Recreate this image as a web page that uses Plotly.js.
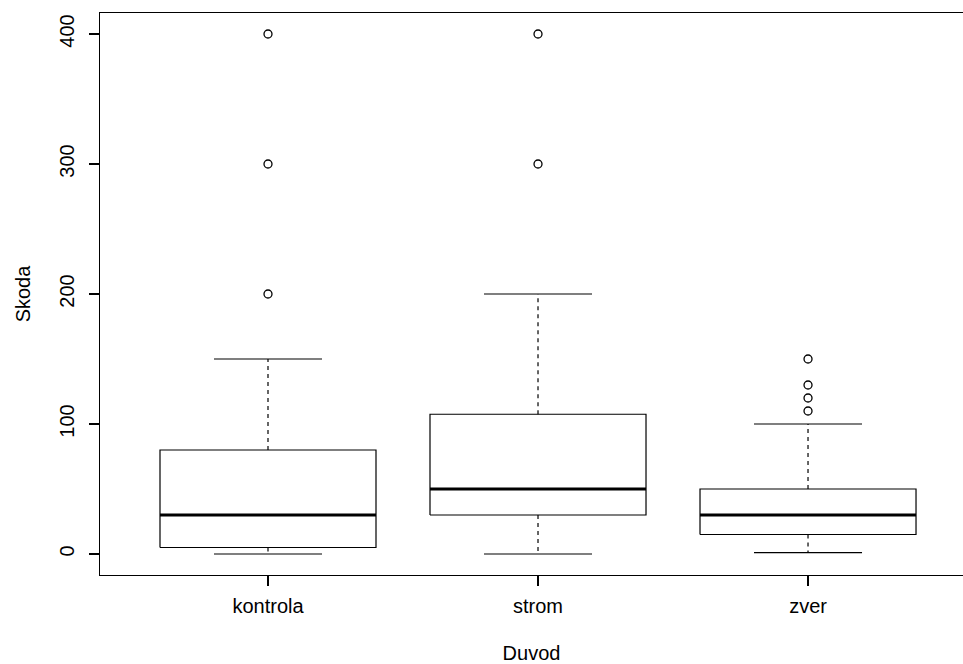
<!DOCTYPE html>
<html>
<head>
<meta charset="utf-8">
<script src="https://cdn.plot.ly/plotly-3.0.1.min.js"></script>
<style>html,body{margin:0;padding:0;background:#fff;overflow:hidden;}</style>
</head>
<body>
<div id="chart" style="width:963px;height:664px;"></div>
<script>
// Data
const categories = ['kontrola', 'strom', 'zver'];
const lowerWhisker = [0, 0, 1];
const q1 = [5, 30, 15];
const medians = [30, 50, 30];
const q3 = [80, 107.5, 50];
const upperWhisker = [150, 200, 100];
const outliersKontrola = [200, 300, 400];
const outliersStrom = [300, 400];
const outliersZver = [110, 120, 130, 150];
const outliers = [outliersKontrola, outliersStrom, outliersZver];
const yTicks = [0, 100, 200, 300, 400];

const halfBox = 0.4;
const halfCap = 0.2;
const traces = [];
categories.forEach((cat, i) => {
  const c = i + 1;
  traces.push({
    type: 'scatter', mode: 'lines', hoverinfo: 'skip', showlegend: false,
    x: [c - halfBox, c + halfBox, c + halfBox, c - halfBox, c - halfBox],
    y: [q1[i], q1[i], q3[i], q3[i], q1[i]],
    line: {color: '#000', width: 1.2}
  });
  traces.push({
    type: 'scatter', mode: 'lines', hoverinfo: 'skip', showlegend: false,
    x: [c - halfBox, c + halfBox], y: [medians[i], medians[i]],
    line: {color: '#000', width: 3.2}
  });
  traces.push({
    type: 'scatter', mode: 'lines', hoverinfo: 'skip', showlegend: false,
    x: [c, c, null, c, c], y: [q3[i], upperWhisker[i], null, q1[i], lowerWhisker[i]],
    line: {color: '#000', width: 1.2, dash: '4px,4px'}
  });
  traces.push({
    type: 'scatter', mode: 'lines', hoverinfo: 'skip', showlegend: false,
    x: [c - halfCap, c + halfCap, null, c - halfCap, c + halfCap],
    y: [upperWhisker[i], upperWhisker[i], null, lowerWhisker[i], lowerWhisker[i]],
    line: {color: '#000', width: 1.2}
  });
  traces.push({
    type: 'scatter', mode: 'markers', hoverinfo: 'skip', showlegend: false,
    x: outliers[i].map(() => c), y: outliers[i],
    marker: {symbol: 'circle-open', size: 8, color: '#000', line: {width: 1.3, color: '#000'}}
  });
});

const font = {family: 'Liberation Sans, Arial, sans-serif', size: 20, color: '#000'};
const layout = {
  width: 963, height: 664,
  margin: {l: 100, r: 0, t: 13, b: 89},
  paper_bgcolor: '#fff', plot_bgcolor: '#fff',
  font: font,
  showlegend: false,
  xaxis: {
    range: [0.3778, 3.574],
    tickvals: [1, 2, 3], ticktext: categories,
    showgrid: false, zeroline: false,
    showline: true, mirror: true, linecolor: '#000', linewidth: 1.2,
    ticks: 'outside', ticklen: 10, tickwidth: 1.2, tickcolor: '#000',
    tickfont: font, ticklabelstandoff: 3,
    title: {text: 'Duvod', font: font, standoff: 29}
  },
  yaxis: {
    range: [-16.15, 416.15],
    tickvals: yTicks,
    showgrid: false, zeroline: false,
    showline: true, linecolor: '#000', linewidth: 1.2,
    ticks: 'outside', ticklen: 10, tickwidth: 1.2, tickcolor: '#000',
    tickangle: -90, tickfont: font, ticklabelstandoff: 7,
    title: {text: 'Skoda', font: font, standoff: 19}
  }
};

Plotly.newPlot('chart', traces, layout, {staticPlot: true, displayModeBar: false});
</script>
</body>
</html>
